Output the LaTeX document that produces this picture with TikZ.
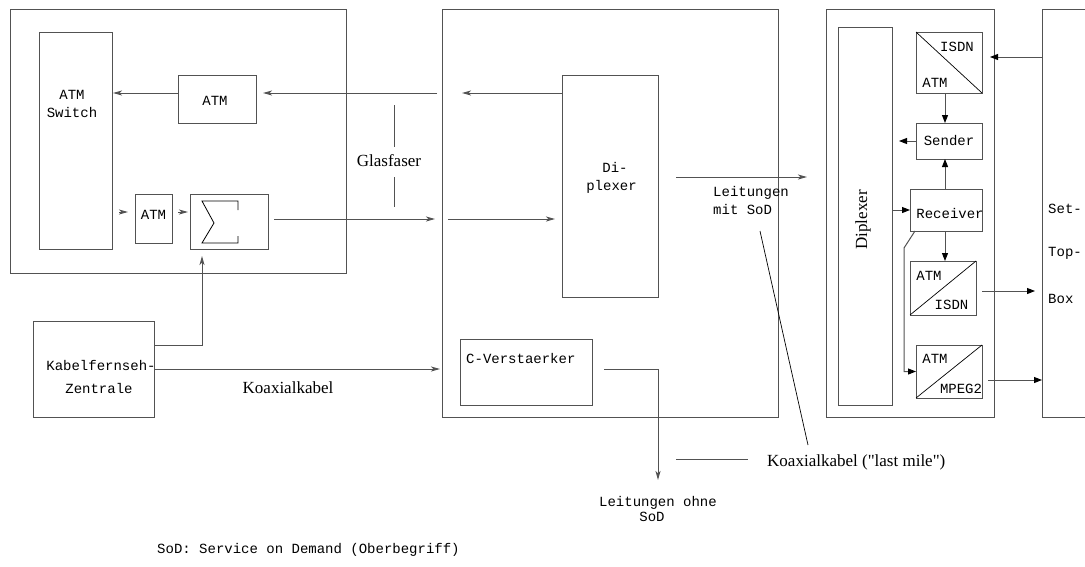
\documentclass[tikz,border=0pt]{standalone}
\usepackage{fontspec}
\setmainfont{Liberation Serif}
\setmonofont{Liberation Mono}
% serif face without TeX quote ligatures, for straight double quotes
\newfontfamily\plainserif{Liberation Serif}
\usetikzlibrary{arrows.meta}
\definecolor{lc}{gray}{0.32}

\begin{document}
\begin{tikzpicture}[x=1pt,y=-1pt,
  box/.style={draw=lc,line width=1pt,inner sep=0pt,outer sep=0pt},
  sz/.style 2 args={minimum width=#1pt,minimum height=#2pt},
  mono/.style={font=\fontsize{14}{18}\selectfont\ttfamily,inner sep=0pt,anchor=base},
  serif/.style={font=\fontsize{17}{20}\selectfont,inner sep=0pt,anchor=base},
  arrG/.style={draw=lc,line width=1pt,-{Stealth[length=9pt,width=5pt,inset=2.5pt]}},
  arrK/.style={draw=lc,line width=1pt,-{Triangle[length=8pt,width=6pt,color=black]}},
  thinb/.style={draw=black,line width=0.7pt}]

\clip (0,0) rectangle (1085,566);

% ---- head end: ATM switch cabinet
\node[box,sz={336}{264}] (hub) at (178,141) {};
\node[box,sz={73}{217}] (sw) at (75.5,140.5) {};
\node[mono] (swt1) at (72,99.5) {ATM};
\node[mono] (swt2) at (72,117.5) {Switch};
\node[box,sz={78}{48}] (atmA) at (217,99) {};
\node[mono] (atmAt) at (215,105.5) {ATM};
\node[box,sz={37}{49}] (atmB) at (153.5,218.5) {};
\node[mono] (atmBt) at (153.5,219.5) {ATM};
\node[box,sz={78}{55}] (sum) at (229,221.5) {};
\draw[draw=black,line width=0.8pt] (238,210) -- (238,201) -- (202,201) -- (214,223)
  -- (202,243) -- (238,243) -- (238,236);

% ---- cable TV centre
\node[box,sz={121}{96}] (kab) at (93.5,369) {};
\node[mono] (kabt1) at (101,370.5) {Kabelfernseh-};
\node[mono] (kabt2) at (99,393.5) {Zentrale};

% ---- distribution cabinet
\node[box,sz={336}{408}] (mid) at (610,213) {};
\node[box,sz={96}{222}] (dip) at (610,186) {};
\node[mono] (dipt1) at (615,172.5) {Di-};
\node[mono] (dipt2) at (611.5,190.5) {plexer};
\node[box,sz={132}{66}] (cv) at (526,372) {};
\node[mono,anchor=base west] (cvt) at (466,363.5) {C-Verstaerker};

% ---- subscriber unit
\node[box,sz={168}{408}] (cpe) at (910,213) {};
\node[box,sz={54}{378}] (dip2) at (865,216) {};
\node[font=\fontsize{17}{20}\selectfont,inner sep=0pt,rotate=90] (dip2t) at (863,220) {Diplexer};
\node[box,sz={66}{61}] (isdnA) at (949,62.5) {};
\node[mono] (isdnAt1) at (957,51.5) {ISDN};
\node[mono] (isdnAt2) at (935,87.5) {ATM};
\node[box,sz={66}{36}] (snd) at (949,141) {};
\node[mono] (sndt) at (949,145.5) {Sender};
\node[box,sz={72}{42}] (rcv) at (946,210) {};
\node[mono] (rcvt) at (950,218.5) {Receiver};
\node[box,sz={66}{54}] (isdnB) at (943,288) {};
\node[mono] (isdnBt1) at (929,280.5) {ATM};
\node[mono] (isdnBt2) at (951.5,309.5) {ISDN};
\node[box,sz={66}{53}] (mpeg) at (949,371.5) {};
\node[mono] (mpegt1) at (935,363.5) {ATM};
\node[mono] (mpegt2) at (961,393.5) {MPEG2};
\draw[thinb] (isdnA.north west) -- (isdnA.south east);
\draw[thinb] (isdnB.south west) -- (isdnB.north east);
\draw[thinb] (mpeg.south west) -- (mpeg.north east);

% ---- set-top box (runs off the right edge)
\node[box,sz={100}{408}] (stb) at (1092,213) {};
\node[mono,anchor=base west] (stbt1) at (1048,213.5) {Set-};
\node[mono,anchor=base west] (stbt2) at (1048,256.5) {Top-};
\node[mono,anchor=base west] (stbt3) at (1048,303.5) {Box};

% ---- free labels
\node[serif] (glas) at (389,166.5) {Glasfaser};
\node[serif] (koax) at (288,393) {Koaxialkabel};
\node[serif,anchor=base west,font=\fontsize{17}{20}\selectfont\plainserif] (koaxl) at (767,466) {Koaxialkabel ("last mile")};
\node[mono,anchor=base west] (lmit1) at (713,196.5) {Leitungen};
\node[mono,anchor=base west] (lmit2) at (713,214.5) {mit SoD};
\node[mono] (lohne1) at (658,506) {Leitungen ohne};
\node[mono] (lohne2) at (652,521) {SoD};
\node[mono,anchor=base west] (legend) at (157,553) {SoD: Service on Demand (Oberbegriff)};

% ---- free connector ends
\coordinate (g1) at (437,93);
\coordinate (d1) at (462,93);
\coordinate (s1) at (119,212);
\coordinate (f1) at (274,219);
\coordinate (f2) at (435,219);
\coordinate (f3) at (448,219);
\coordinate (m1) at (676,177);
\coordinate (m2) at (807,177);
\coordinate (k0) at (154,345);
\coordinate (k1) at (202,256);
\coordinate (c1) at (604,369);
\coordinate (c2) at (658,480);
\coordinate (l1) at (676,459);
\coordinate (l2) at (748,459);
\coordinate (p1) at (760,231);
\coordinate (p2) at (808,445);
\coordinate (gl1) at (394,105);
\coordinate (gl2) at (394,147);
\coordinate (gl3) at (394,177);
\coordinate (gl4) at (394,207);
\coordinate (r1) at (990,57);
\coordinate (r2) at (899,141);
\coordinate (r3) at (904,248);
\coordinate (o1) at (982,291);
\coordinate (o2) at (1035,291);
\coordinate (o3) at (988,380);

% ---- fibre and coax links, left part
\draw[arrG] (dip.west |- d1) -- (d1);
\draw[arrG] (g1) -- ([xshift=7pt]atmA.east |- g1);
\draw[arrG] (atmA.west |- g1) -- ([xshift=1pt]sw.east |- g1);
\draw[arrG] (s1) -- ([xshift=-7pt]atmB.west |- s1);
\draw[arrG] ([xshift=6pt]atmB.east |- s1) -- ([xshift=-2pt]sum.west |- s1);
\draw[arrG] (f1) -- (f2);
\draw[arrG] (f3) -- ([xshift=-7pt]dip.west |- f3);
\draw[arrG] (m1) -- (m2);
\draw[arrG] (kab.east |- k0) -- (k1 |- k0) -- (k1);
\draw[arrG] (kab.east) -- ([xshift=-2pt]mid.west |- kab.east);
\draw[arrG] (c1) -- (c1 -| c2) -- (c2);
\draw[draw=lc,line width=1pt] (gl1) -- (gl2) (gl3) -- (gl4);
\draw[draw=lc,line width=1pt] (l1) -- (l2);
\draw[thinb] (p1) -- (p2);

% ---- subscriber unit links
\draw[arrK] (stb.west |- r1) -- (r1);
\draw[arrK] ([xshift=-4pt]isdnA.south) -- ([xshift=-4pt]snd.north);
\draw[arrK] (snd.west) -- (r2);
\draw[arrK] ([xshift=-1pt]rcv.north) -- ([xshift=-1pt]rcv.north |- snd.south);
\draw[arrK] (dip2.east |- rcv.west) -- (rcv.west);
\draw[arrK] ([xshift=-1pt]rcv.south) -- ([xshift=-1pt]rcv.south |- isdnB.north);
\draw[arrK] ([xshift=5pt]rcv.south west) -- (r3) -- (r3 |- mpeg.west) -- (mpeg.west);
\draw[arrK] (o1) -- (o2);
\draw[arrK] (o3) -- (stb.west |- o3);
\end{tikzpicture}
\end{document}
